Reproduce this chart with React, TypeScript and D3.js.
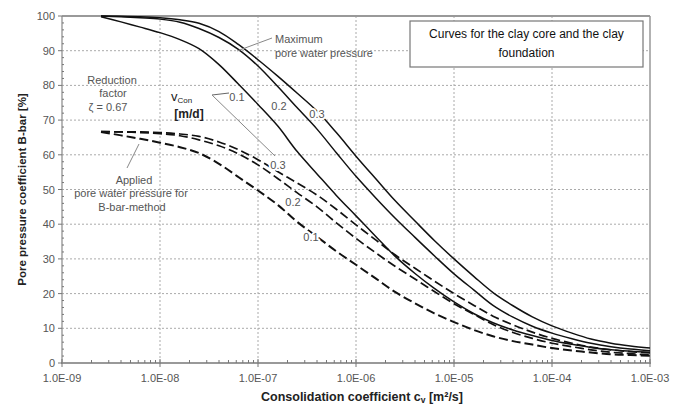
import React from "react";
import * as d3 from "d3";

// consolidation coefficient cv [m²/s] sample points
const CV = [
  2.5e-9, 4e-9, 6.3e-9, 1e-8, 1.6e-8, 2.5e-8, 4e-8, 6.3e-8, 1e-7, 1.6e-7,
  2.5e-7, 4e-7, 6.3e-7, 1e-6, 1.6e-6, 2.5e-6, 4e-6, 6.3e-6, 1e-5, 1.6e-5,
  2.5e-5, 4e-5, 6.3e-5, 1e-4, 1.6e-4, 2.5e-4, 4e-4, 6.3e-4, 1e-3,
];

// maximum pore water pressure (solid), vCon = 0.1 / 0.2 / 0.3 m/d
const MAX_01 = [99.8, 98.3, 96.8, 95.2, 93.2, 90.6, 86.0, 80.4, 74.5, 68.2, 61.0, 54.5, 48.3, 42.4, 36.4, 30.8, 25.8, 21.5, 17.6, 14.2, 11.6, 9.5, 7.9, 6.5, 5.4, 4.5, 3.8, 3.4, 3.1];
const MAX_02 = [100, 99.8, 99.5, 99.1, 98.2, 96.4, 93.8, 90.4, 85.6, 79.6, 73.6, 67.4, 60.6, 53.8, 47.5, 41.8, 36.2, 30.9, 25.7, 21.0, 16.6, 13.2, 10.6, 8.6, 7.0, 5.7, 4.7, 4.0, 3.5];
const MAX_03 = [100, 99.9, 99.8, 99.5, 98.9, 97.9, 95.5, 91.8, 87.4, 82.6, 77.8, 72.6, 66.4, 59.6, 53.0, 46.8, 40.9, 35.3, 30.0, 24.9, 20.3, 16.5, 13.3, 10.7, 8.6, 6.9, 5.7, 4.9, 4.3];

// applied pore water pressure for B-bar-method (dashed)
const APP_01 = [66.6, 65.6, 64.6, 63.5, 62.2, 60.5, 57.4, 53.6, 49.7, 45.5, 40.7, 36.4, 32.2, 28.3, 24.3, 20.5, 17.2, 14.3, 11.8, 9.5, 7.7, 6.3, 5.3, 4.3, 3.6, 3.0, 2.5, 2.3, 2.1];
const APP_02 = [66.7, 66.6, 66.4, 66.1, 65.5, 64.3, 62.6, 60.3, 57.1, 53.1, 49.1, 45.0, 40.4, 35.9, 31.7, 27.9, 24.2, 20.6, 17.1, 14.0, 11.1, 8.8, 7.1, 5.7, 4.7, 3.8, 3.1, 2.7, 2.3];
const APP_03 = [66.7, 66.6, 66.6, 66.4, 66.0, 65.3, 63.7, 61.5, 58.6, 55.1, 51.9, 48.4, 44.3, 39.8, 35.4, 31.2, 27.3, 23.6, 20.0, 16.6, 13.5, 11.0, 8.9, 7.1, 5.7, 4.6, 3.8, 3.3, 2.9];

const X_TICKS = [1e-9, 1e-8, 1e-7, 1e-6, 1e-5, 1e-4, 1e-3];
const X_TICK_LABELS = ["1.0E-09", "1.0E-08", "1.0E-07", "1.0E-06", "1.0E-05", "1.0E-04", "1.0E-03"];
const Y_TICKS = [0, 10, 20, 30, 40, 50, 60, 70, 80, 90, 100];

const W = 686;
const H = 408;
const L = 62, R = 650, T = 16, B = 363;
const FONT = "'Liberation Sans', Arial, Helvetica, sans-serif";
const GREY_TXT = "#555";

export default function App() {
  const x = d3.scaleLog().domain([1e-9, 1e-3]).range([L, R]);
  const y = d3.scaleLinear().domain([0, 100]).range([B, T]);

  const line = d3
    .line<[number, number]>()
    .x((d) => x(d[0]))
    .y((d) => y(d[1]))
    .curve(d3.curveCatmullRom.alpha(0.5));
  const path = (vals: number[]) => line(CV.map((c, i) => [c, vals[i]] as [number, number])) || "";

  const minorX: number[] = [];
  for (let e = -9; e < -3; e++) for (let m = 2; m <= 9; m++) minorX.push(m * Math.pow(10, e));
  const minorY: number[] = [];
  for (let v = 2; v < 100; v += 2) if (v % 10 !== 0) minorY.push(v);

  const halo = { paintOrder: "stroke" as const, stroke: "#fff", strokeWidth: 4, strokeLinejoin: "round" as const };

  return (
    <svg width={W} height={H} style={{ position: "fixed", left: 0, top: 0, background: "#fff" }} fontFamily={FONT}>
      <rect x={0} y={0} width={W} height={H} fill="#fff" />
      {/* grid */}
      {Y_TICKS.filter((v) => v > 0 && v < 100).map((v) => (
        <line key={"gy" + v} x1={L} x2={R} y1={y(v)} y2={y(v)} stroke="#aaa" strokeDasharray="2,2" strokeWidth={1} />
      ))}
      {X_TICKS.slice(1, -1).map((v, i) => (
        <line key={"gx" + i} x1={x(v)} x2={x(v)} y1={T} y2={B} stroke="#aaa" strokeDasharray="2,2" strokeWidth={1} />
      ))}
      {/* frame */}
      <line x1={L} x2={R} y1={T} y2={T} stroke="#999" strokeWidth={2} />
      <line x1={R} x2={R} y1={T} y2={B} stroke="#999" strokeWidth={1.5} />
      <line x1={L} x2={L} y1={T} y2={B} stroke="#888" strokeWidth={1.2} />
      <line x1={L - 1} x2={R + 1} y1={B} y2={B} stroke="#999" strokeWidth={2.2} />

      {/* y ticks */}
      {Y_TICKS.map((v) => (
        <g key={"yt" + v}>
          <line x1={L - 4} x2={L} y1={y(v)} y2={y(v)} stroke="#777" strokeWidth={1} />
          <text x={L - 7} y={y(v) + 4} fontSize={11} fill={GREY_TXT} textAnchor="end">{v}</text>
        </g>
      ))}
      {minorY.map((v) => (
        <line key={"ym" + v} x1={L} x2={L + 2} y1={y(v)} y2={y(v)} stroke="#777" strokeWidth={1} />
      ))}
      {/* x ticks */}
      {X_TICKS.map((v, i) => (
        <g key={"xt" + i}>
          <line x1={x(v)} x2={x(v)} y1={B - 4} y2={B + 4} stroke="#777" strokeWidth={1} />
          <text x={x(v)} y={382} fontSize={11} fill={GREY_TXT} textAnchor="middle">{X_TICK_LABELS[i]}</text>
        </g>
      ))}
      {minorX.map((v, i) => (
        <line key={"xm" + i} x1={x(v)} x2={x(v)} y1={B - 3} y2={B} stroke="#777" strokeWidth={1} />
      ))}

      {/* curves */}
      {[APP_01, APP_02, APP_03].map((vals, i) => (
        <path key={"d" + i} d={path(vals)} fill="none" stroke="#111" strokeWidth={i === 0 ? 2 : 1.7} strokeDasharray="9,4" />
      ))}
      {[MAX_01, MAX_02, MAX_03].map((vals, i) => (
        <path key={"s" + i} d={path(vals)} fill="none" stroke="#111" strokeWidth={1.5} />
      ))}

      {/* leader lines */}
      <line x1={237} y1={51} x2={272} y2={38} stroke="#888" strokeWidth={1} />
      <line x1={212} y1={95} x2={229} y2={93} stroke="#666" strokeWidth={1} />
      <line x1={212} y1={95} x2={275} y2={156} stroke="#888" strokeWidth={1} />
      <line x1={127} y1={168} x2={139} y2={144} stroke="#888" strokeWidth={1} />

      {/* curve labels */}
      <g fontSize={11} fill={GREY_TXT} textAnchor="middle">
        <text x={237} y={101}>0.1</text>
        <text x={279} y={110} {...halo}>0.2</text>
        <text x={317} y={118} {...halo}>0.3</text>
        <text x={278} y={169} {...halo}>0.3</text>
        <text x={293} y={206} {...halo}>0.2</text>
        <text x={311} y={241} {...halo}>0.1</text>
      </g>

      {/* annotations */}
      <g fontSize={11} fill={GREY_TXT}>
        <text x={275} y={43}>Maximum</text>
        <text x={275} y={57}>pore water  pressure</text>
        <g textAnchor="middle">
          <text x={112} y={84}>Reduction</text>
          <text x={113} y={97}>factor</text>
          <text x={108} y={111}>ζ = 0.67</text>
          <text x={134} y={184}>Applied</text>
          <text x={131} y={197}>pore water pressure for</text>
          <text x={132} y={211}>B-bar-method</text>
        </g>
      </g>
      <text x={171} y={101} fontSize={13} fill="#222">
        v<tspan fontSize={8} dy={2}>Con</tspan>
      </text>
      <text x={189} y={118} fontSize={12} fontWeight="bold" fill="#222" textAnchor="middle">[m/d]</text>

      {/* info box */}
      <rect x={410} y={21} width={233} height={46} fill="#fff" stroke="#777" strokeWidth={1.2} />
      <text x={526.5} y={38} fontSize={12} fill="#111" textAnchor="middle">Curves for the clay core and the clay</text>
      <text x={526.5} y={57} fontSize={12} fill="#111" textAnchor="middle">foundation</text>

      {/* axis titles */}
      <text transform={`translate(26,${(T + B) / 2}) rotate(-90)`} fontSize={11.5} fontWeight="bold" fill="#222" textAnchor="middle">
        Pore pressure coefficient B-bar [%]
      </text>
      <text x={362} y={401} fontSize={12.5} fontWeight="bold" fill="#222" textAnchor="middle">
        Consolidation coefficient c<tspan fontSize={8.5} dy={2}>v</tspan><tspan dy={-2}> [m²/s]</tspan>
      </text>
    </svg>
  );
}
